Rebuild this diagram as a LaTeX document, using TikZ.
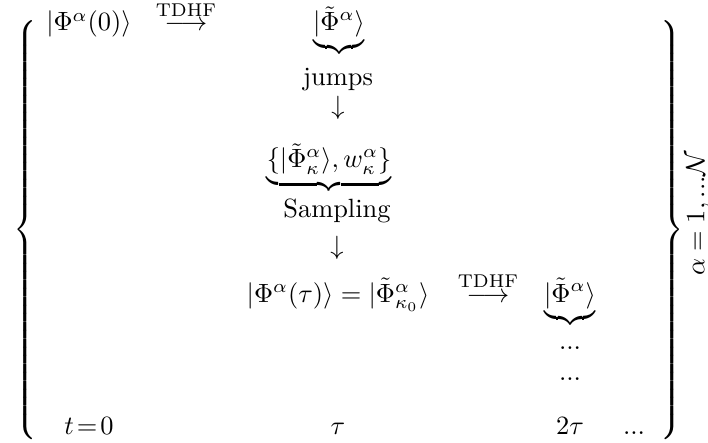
\documentclass[tikz,border=0pt]{standalone}
\usepackage{amsmath}
\usepackage{graphicx}
\begin{document}
\delimiterfactor=1000 \delimitershortfall=0pt
\begin{tikzpicture}[x=0.3788pt, y=-0.3788pt, every node/.style={inner sep=0pt, anchor=base}]
            \useasboundingbox (0,0) rectangle (708,443);

            % Chaves
            \node[anchor=center] (esq) at (27,230) {\scalebox{1}[1.06]{$\left\{\vcenter{\hrule height 150pt width 0pt}\right.$}};
            \node[anchor=center] (dir) at (671,230) {\scalebox{1}[1.06]{$\left.\vcenter{\hrule height 150pt width 0pt}\right\}$}};
            \node[anchor=center, rotate=90] (alfa) at (698,213) {$\alpha=1,...\mathcal{N}$};

            % Primeira linha
            \node (psi0) at (89,31) {$|\Phi^{\alpha}(0)\rangle$};
            \node (tdhf1) at (186,31) {$\stackrel{\text{TDHF}}{\longrightarrow}$};
            \node (phi1) at (339,31) {$\underbrace{|\tilde{\Phi}^{\alpha}\rangle}$};
            \node (jumps) at (338,86) {jumps};
            \node (seta1) at (338,115) {$\downarrow$};

            % Amostragem
            \node (conj) at (329,168) {$\underbrace{\{|\tilde{\Phi}^{\alpha}_{\kappa}\rangle, w^{\alpha}_{\kappa}\}}$};
            \node (samp) at (337,218) {Sampling};
            \node (seta2) at (337,255) {$\downarrow$};

            % Segunda linha
            \node (psitau) at (338,302) {$|\Phi^{\alpha}(\tau)\rangle = |\tilde{\Phi}^{\alpha}_{\kappa_0}\rangle$};
            \node (tdhf2) at (488,302) {$\stackrel{\text{TDHF}}{\longrightarrow}$};
            \node (phi2) at (570,302) {$\underbrace{|\tilde{\Phi}^{\alpha}\rangle}$};
            \node (pts1) at (570,350) {$...$};
            \node (pts2) at (570,381) {$...$};

            % Tempos
            \node (t0) at (89,434) {$t\!=\!0$};
            \node (t1) at (338,434) {$\tau$};
            \node (t2) at (570,434) {$2\tau$};
            \node (t3) at (634,434) {$...$};
        \end{tikzpicture}
\end{document}
